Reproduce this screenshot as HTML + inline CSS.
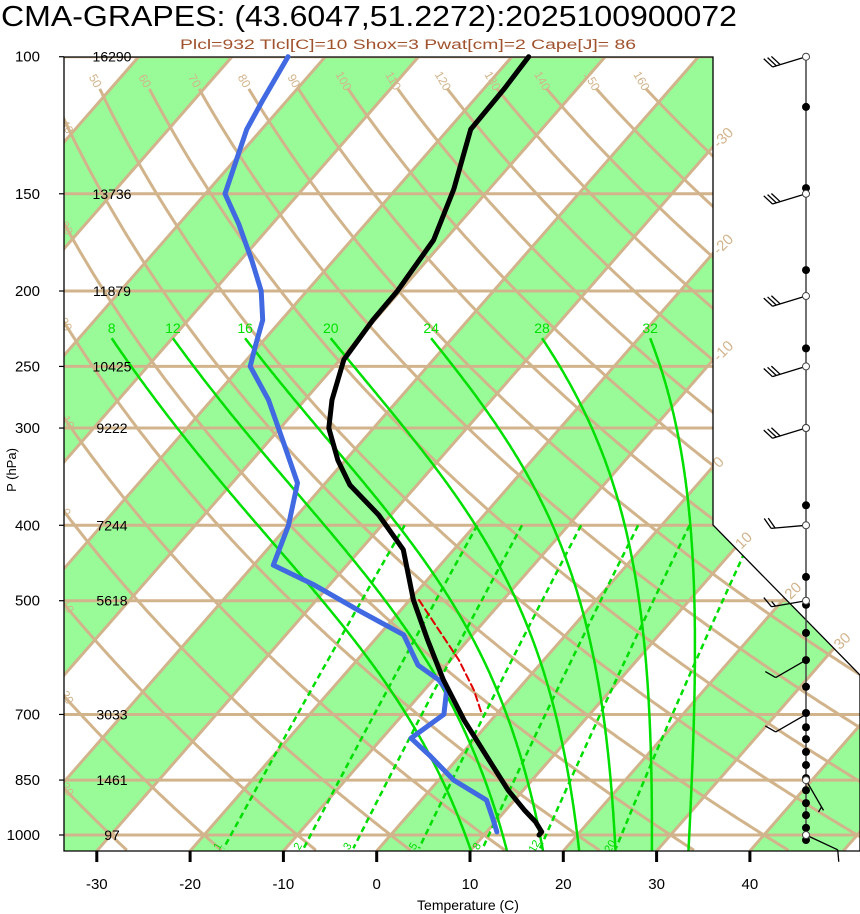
<!DOCTYPE html>
<html><head><meta charset="utf-8"><style>
html,body{margin:0;padding:0;background:#fff;}
svg{display:block;font-family:"Liberation Sans",Arial,sans-serif;}
</style></head><body>
<svg id="chart" width="860" height="914" viewBox="0 0 860 914" xmlns="http://www.w3.org/2000/svg">
<defs><clipPath id="plotclip"><polygon points="64,57 713,57 713,525 860,675 860,851 64,851"/></clipPath></defs>
<text x="1" y="26" font-size="29" textLength="736" lengthAdjust="spacingAndGlyphs">CMA-GRAPES: (43.6047,51.2272):2025100900072</text>
<text x="180" y="49" font-size="13.5" fill="#a0522d" textLength="456" lengthAdjust="spacingAndGlyphs">Plcl=932 Tlcl[C]=10 Shox=3 Pwat[cm]=2 Cape[J]= 86</text>
<g id="bg" clip-path="url(#plotclip)"></g>
<g id="fg"></g>
<text x="468" y="910" font-size="14" text-anchor="middle">Temperature (C)</text>
<text transform="translate(16,470) rotate(-90)" font-size="13" text-anchor="middle">P (hPa)</text>
</svg>
<script>
// ---- data ----
const isobarLevels=[100,150,200,250,300,400,500,700,850,1000];
const heightLabels=["16290","13736","11879","10425","9222","7244","5618","3033","1461","97"];
const xTicks=[-30,-20,-10,0,10,20,30,40];
const tempP=[100,110,124,148,172,200,218,245,276,300,330,355,388,430,499,562,632,712,801,876,929,962,991,1000];
const tempT=[-58.2,-57.8,-57.6,-53.8,-51.2,-50.3,-50.2,-49.6,-47.1,-44.8,-40.8,-37.2,-31.3,-25.4,-19.6,-14.3,-8.9,-2.9,3.5,8.4,12.0,14.3,15.9,15.9];
const dewP=[100,114,124,150,164,183,200,218,235,250,276,311,353,400,450,477,514,553,605,632,651,700,751,789,850,902,957,991];
const dewT=[-84.0,-82.6,-81.6,-77.9,-73.6,-68.7,-64.9,-62.0,-60.4,-59.0,-53.9,-48.6,-43.0,-40.0,-37.9,-31.7,-24.6,-17.4,-13.0,-9.4,-7.6,-5.6,-6.9,-3.4,1.6,7.0,9.6,11.1];
const parcelP=[499,545,596,651,694];
const parcelT=[-19.0,-14.1,-9.1,-4.7,-1.9];
const moistThetaW=[8,12,16,20,24,28,32];
const mixRatios=[1,2,3,5,8,12,20];
const dryThetas=[-30,-20,-10,0,10,20,30,40,50,60,70,80,90,100,110,120,130,140,150,160];
const isoLabelT=[-30,-20,-10,0,10,20,30];
const barbP=[100,150,203,250,300,400,500,596,700,850,1000];
const barbDir=[253,253,253,253,253,265,260,240,240,150,115];
const barbSpd=[30,30,30,30,30,20,15,10,10,5,10];
const dotP=[116,147.5,188,237,300,377,466,506,550,596,645,697,727,753,782,813,845,876,910,943,979,1015];
const openP=[100,150,203,250,300,400,500,850,1000];
// ---- axes ----
const NS="http://www.w3.org/2000/svg";
function yP(p){return 835-338*Math.log(1000/p);}
function xT(T,p){return 376.7+9.33*T+0.875*(851-yP(p));}
function mk(tag,attrs,parent){const e=document.createElementNS(NS,tag);for(const k in attrs)e.setAttribute(k,attrs[k]);parent.appendChild(e);return e;}
const bg=document.getElementById('bg'),fg=document.getElementById('fg');
const TAN="#d2b48c";
function pathFrom(pts){return pts.map((q,i)=>(i?"L":"M")+q[0].toFixed(1)+","+q[1].toFixed(1)).join("");}
const PB=1048,PT=100;
for(let T=-160;T<=60;T+=20){
  const pts=[[xT(T,PB),yP(PB)],[xT(T,PT),yP(PT)],[xT(T+10,PT),yP(PT)],[xT(T+10,PB),yP(PB)]];
  const el=mk('polygon',{points:pts.map(q=>q.join(",")).join(" "),fill:"#98fb98"},bg);
  
  
}
for(let T=-170;T<=70;T+=10){
  const el=mk('line',{x1:xT(T,PB),y1:yP(PB),x2:xT(T,PT),y2:yP(PT),stroke:TAN,"stroke-width":3},bg);
  
  
}
dryThetas.forEach(th=>{
  const pts=[];
  for(let p=110;p<=PB;p+=4){const T=(th+273.15)*Math.pow(p/1000,0.2857)-273.15;pts.push([xT(T,p),yP(p)]);}
  const el=mk('path',{d:pathFrom(pts),fill:"none",stroke:TAN,"stroke-width":3},bg);
  
  
  let lp=pts.find(q=>q[0]>=70&&q[0]<700);
  if(lp&&lp[1]<800){
    const t=mk('text',{x:lp[0]-8,y:lp[1]-6,"font-size":12,fill:TAN,"text-anchor":"middle",transform:`rotate(60 ${lp[0]-8} ${lp[1]-6})`},bg);
    t.textContent=th;
    
    
  }
});
isobarLevels.forEach((p,i)=>{
  const el=mk('line',{x1:64,y1:yP(p),x2:860,y2:yP(p),stroke:TAN,"stroke-width":3},bg);
  
  
});
function es(T){return 6.112*Math.exp(17.67*T/(T+243.5));}
function rs(T,p){const e=es(T);return 0.622*e/(p-e);}
function dTdp(T,p){const Tk=T+273.15,r=rs(T,p);return (287*Tk+2.5e6*r)/(1004+2.5e6*2.5e6*r*0.622/(287*Tk*Tk))/p;}
moistThetaW.forEach(tw=>{
  const up=[];let T=tw;
  for(let p=1000;p>=230;p-=2){up.push([xT(T,p),yP(p)]);const k1=dTdp(T,p);const k2=dTdp(T-2*k1,p-2);T-=(k1+k2);}
  let Td=tw;const down=[];
  for(let p=1000;p<=PB;p+=2){const k1=dTdp(Td,p);const k2=dTdp(Td+2*k1,p+2);Td+=(k1+k2);down.push([xT(Td,p+2),yP(p+2)]);}
  const pts=up.reverse().concat(down);
  const el=mk('path',{d:pathFrom(pts),fill:"none",stroke:"#00e000","stroke-width":2.5},bg);
  
  
  const t=mk('text',{x:pts[0][0],y:pts[0][1]-5,"font-size":14,fill:"#00e000","text-anchor":"middle"},bg);
  t.textContent=tw;
  
  
});
function tdOf(w,p){const e=w*p/(622+w);const l=Math.log(e/6.112);return 243.5*l/(17.67-l);}
mixRatios.forEach(w=>{
  const pts=[];for(let p=400;p<=1040;p+=10)pts.push([xT(tdOf(w,p),p),yP(p)]);
  const el=mk('path',{d:pathFrom(pts),fill:"none",stroke:"#00dd00","stroke-width":2.5,"stroke-dasharray":"6,4"},bg);
  
  
  const lx=xT(tdOf(w,1045),1045)-2,ly=848;
  const t=mk('text',{x:lx,y:ly,"font-size":11,fill:"#00dd00","text-anchor":"middle",transform:`rotate(-60 ${lx} ${ly})`},bg);
  t.textContent=w;
  
  
});
isoLabelT.forEach(T=>{
  const a=376.7+9.33*T;let x,y;
  if(T<=0){x=713;y=851-(713-a)/0.875;}
  else{y=(a+0.875*851-713+0.98*525)/(0.875+0.98);x=713+(y-525)*0.98;}
  const t=mk('text',{x:x+6,y:y+2,"font-size":15,fill:TAN,transform:`rotate(-45 ${x+6} ${y+2})`},fg);
  t.textContent=T;
  
  
});
const fr=mk('polyline',{points:"64,57 713,57 713,525 860,675 860,851 64,851 64,57",fill:"none",stroke:"#000","stroke-width":1.3},fg);


function prof(P,T,attrs,name){
  const pts=P.map((p,i)=>[xT(T[i],p),yP(p)]);
  const el=mk('path',Object.assign({d:pathFrom(pts),fill:"none","stroke-linejoin":"round","stroke-linecap":"round"},attrs),fg);
  
  
}
prof(dewP,dewT,{stroke:"#4169e1","stroke-width":5},'dewpoint-profile');
prof(tempP,tempT,{stroke:"#000","stroke-width":5},'temperature-profile');
prof(parcelP,parcelT,{stroke:"#e00000","stroke-width":2,"stroke-dasharray":"7,4"},'parcel-path');
isobarLevels.forEach((p,i)=>{
  const y=yP(p);
  const tk=mk('line',{x1:59,y1:y,x2:64,y2:y,stroke:"#000","stroke-width":1.2},fg);
  
  
  const t=mk('text',{x:40,y:y+5,"font-size":15,"text-anchor":"end"},fg);
  t.textContent=p;
  
  
  const h=mk('text',{x:112,y:y+5,"font-size":14,"text-anchor":"middle"},fg);
  h.textContent=heightLabels[i];
  
  
});
xTicks.forEach(T=>{
  const x=376.7+9.33*T;
  const tk=mk('line',{x1:x,y1:851,x2:x,y2:862,stroke:"#000","stroke-width":3},fg);
  
  
  const t=mk('text',{x:x,y:889,"font-size":15,"text-anchor":"middle"},fg);
  t.textContent=T;
  
  
});
const SX=806;
const st=mk('line',{x1:SX,y1:yP(100),x2:SX,y2:yP(1015),stroke:"#444","stroke-width":1.5},fg);


barbP.forEach((p,i)=>{
  const y=yP(p),d=barbDir[i]*Math.PI/180,L=35;
  const ux=Math.sin(d),uy=-Math.cos(d);
  const tx=SX+ux*L,ty=y+uy*L;
  const g=mk('g',{stroke:"#000","stroke-width":1.3,fill:"none"},fg);
  
  
  mk('line',{x1:SX,y1:y,x2:tx,y2:ty},g);
  const fx=ux*0.5-uy*0.866,fy=ux*0.866+uy*0.5;
  let s=barbSpd[i],k=0;
  while(s>=10){const bx=tx-ux*k*4,by=ty-uy*k*4;mk('line',{x1:bx,y1:by,x2:bx+fx*12,y2:by+fy*12},g);s-=10;k++;}
  if(s>=5){if(k==0)k=1;const bx=tx-ux*k*4,by=ty-uy*k*4;mk('line',{x1:bx,y1:by,x2:bx+fx*6,y2:by+fy*6},g);}
});
dotP.forEach(p=>{
  const c=mk('circle',{cx:SX,cy:yP(p),r:4,fill:"#000"},fg);
  
  
});
openP.forEach(p=>{
  const c=mk('circle',{cx:SX,cy:yP(p),r:3.5,fill:"#fff",stroke:"#444","stroke-width":1},fg);
  
  
});
</script>
</body></html>
